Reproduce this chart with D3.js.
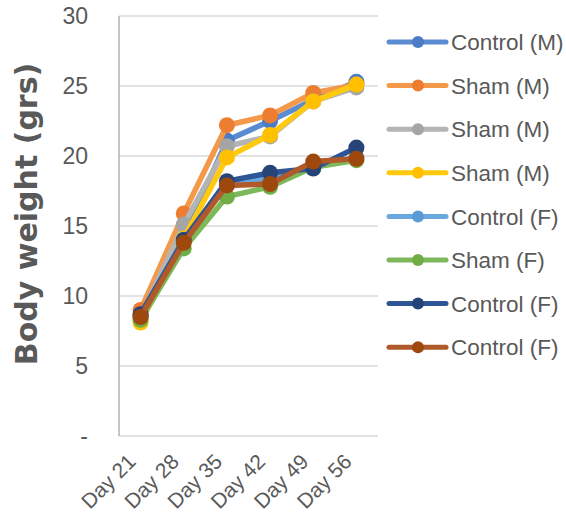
<!DOCTYPE html>
<html>
<head>
<meta charset="utf-8">
<script src="https://cdn.jsdelivr.net/npm/d3@7"></script>
<style>
  html, body { margin: 0; padding: 0; background: #ffffff; }
  svg { display: block; }
</style>
</head>
<body>
<svg id="chart" width="566" height="516"></svg>
<script>
// Weigh-in days
const days = ["Day 21", "Day 28", "Day 35", "Day 42", "Day 49", "Day 56"];

// Body weight (grs) per group, one value per weigh-in day
const controlM  = [8.6, 14.3, 21.1, 22.5, 24.0, 25.3];
const shamM1    = [9.0, 15.9, 22.2, 22.9, 24.5, 25.1];
const shamM2    = [8.5, 15.1, 20.7, 21.4, 23.9, 24.9];
const shamM3    = [8.1, 14.1, 19.9, 21.5, 23.9, 25.1];
const controlF1 = [8.5, 14.0, 18.0, 18.4, 19.2, 19.9];
const shamF     = [8.3, 13.4, 17.1, 17.8, 19.2, 19.7];
const controlF2 = [8.7, 14.0, 18.2, 18.8, 19.1, 20.6];
const controlF3 = [8.5, 13.8, 17.9, 18.0, 19.6, 19.8];

const seriesNames = ["Control (M)", "Sham (M)", "Sham (M)", "Sham (M)",
                     "Control (F)", "Sham (F)", "Control (F)", "Control (F)"];
const seriesValues = [controlM, shamM1, shamM2, shamM3, controlF1, shamF, controlF2, controlF3];
const lineColors   = ["#5b8bd0", "#f4994a", "#b4b4b4", "#ffc90e", "#6aa8de", "#7db85a", "#2e5596", "#b0592a"];
const markerColors = ["#4a7cc8", "#ed7d31", "#a5a5a5", "#ffc000", "#5b9bd5", "#70ad47", "#264478", "#9e480e"];

const yTicks = [0, 5, 10, 15, 20, 25, 30];

const svg = d3.select("#chart");
const plot = { left: 119, right: 378, top: 16, bottom: 436 };
const textColor = "#595959";

const x = d3.scalePoint().domain(days).range([plot.left, plot.right]).padding(0.5);
const y = d3.scaleLinear().domain([0, 30]).range([plot.bottom, plot.top]);

// Horizontal gridlines
svg.append("g")
  .selectAll("line")
  .data(yTicks)
  .join("line")
  .attr("x1", plot.left).attr("x2", plot.right)
  .attr("y1", d => y(d)).attr("y2", d => y(d))
  .attr("stroke", "#d9d9d9")
  .attr("stroke-width", 1.5);

// Vertical value axis line
svg.append("line")
  .attr("x1", plot.left).attr("x2", plot.left)
  .attr("y1", plot.top).attr("y2", plot.bottom)
  .attr("stroke", "#a6a6a6")
  .attr("stroke-width", 1.3);

// Y axis tick labels
const yAxis = d3.axisLeft(y)
  .tickValues(yTicks)
  .tickSize(0)
  .tickPadding(31)
  .tickFormat(d => d === 0 ? "-" : d);
const yAxisG = svg.append("g")
  .attr("transform", `translate(${plot.left},0)`)
  .call(yAxis);
yAxisG.select(".domain").remove();
yAxisG.selectAll("text")
  .attr("fill", textColor)
  .attr("font-family", "'Liberation Sans', Arial, sans-serif")
  .attr("font-size", 23);

// X axis tick labels, rotated
const xAxis = d3.axisBottom(x).tickSize(0).tickPadding(0);
const xAxisG = svg.append("g")
  .attr("transform", `translate(0,${plot.bottom})`)
  .call(xAxis);
xAxisG.select(".domain").remove();
xAxisG.selectAll("text")
  .attr("fill", textColor)
  .attr("font-family", "'Liberation Sans', Arial, sans-serif")
  .attr("font-size", 21)
  .attr("text-anchor", "end")
  .attr("dy", "0")
  .attr("y", 0)
  .attr("transform", "translate(-4,27) rotate(-45)");

// Y axis title
svg.append("text")
  .attr("transform", "translate(37,214) rotate(-90)")
  .attr("text-anchor", "middle")
  .attr("font-family", "'DejaVu Sans', Verdana, sans-serif")
  .attr("font-weight", "bold")
  .attr("font-size", 30)
  .attr("fill", textColor)
  .text("Body weight (grs)");

// Series lines and markers
const line = d3.line()
  .x((d, i) => x(days[i]))
  .y(d => y(d));

const seriesG = svg.append("g")
  .selectAll("g")
  .data(seriesValues)
  .join("g");

seriesG.append("path")
  .attr("d", d => line(d))
  .attr("fill", "none")
  .attr("stroke", (d, i) => lineColors[i])
  .attr("stroke-width", 5.5)
  .attr("stroke-linejoin", "round")
  .attr("stroke-linecap", "round");

seriesG.selectAll("circle")
  .data((d, i) => d.map(v => ({ v, i })))
  .join("circle")
  .attr("cx", (d, k) => x(days[k]))
  .attr("cy", d => y(d.v))
  .attr("r", 8)
  .attr("fill", d => markerColors[d.i]);

// Legend
const legend = svg.append("g")
  .selectAll("g")
  .data(seriesNames)
  .join("g")
  .attr("transform", (d, i) => `translate(0,${42 + i * 43.6})`);

legend.append("line")
  .attr("x1", 389).attr("x2", 446)
  .attr("y1", 0).attr("y2", 0)
  .attr("stroke", (d, i) => lineColors[i])
  .attr("stroke-width", 5)
  .attr("stroke-linecap", "round");

legend.append("circle")
  .attr("cx", 418).attr("cy", 0).attr("r", 6)
  .attr("fill", (d, i) => markerColors[i]);

legend.append("text")
  .attr("x", 451).attr("y", 0)
  .attr("dy", "0.36em")
  .attr("font-family", "'Liberation Sans', Arial, sans-serif")
  .attr("font-size", 22.5)
  .attr("fill", textColor)
  .text(d => d);
</script>
</body>
</html>
